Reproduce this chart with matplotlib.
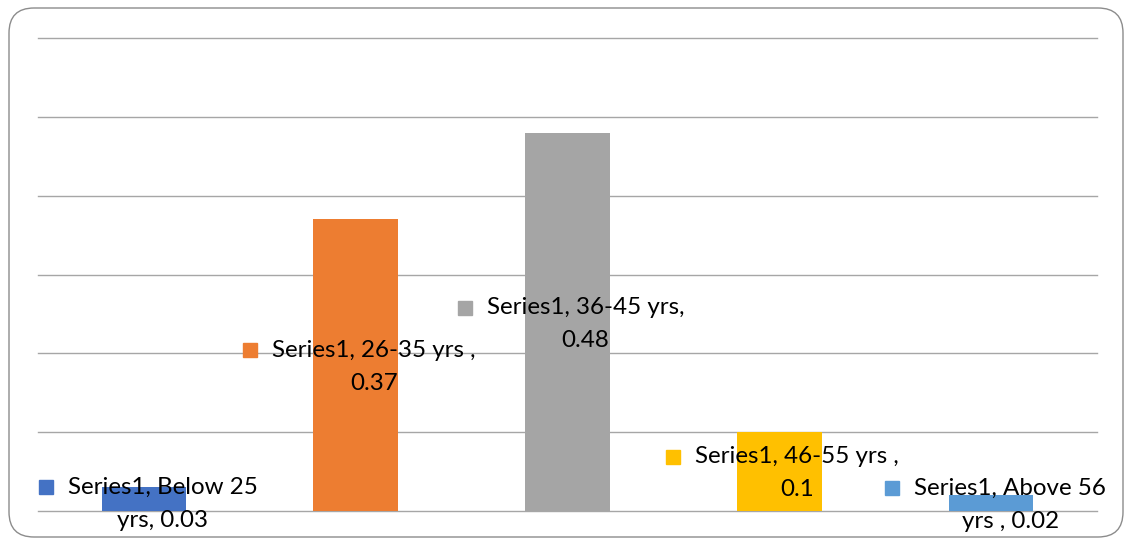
import matplotlib
matplotlib.use("Agg")
import matplotlib.pyplot as plt
from matplotlib.patches import FancyBboxPatch
from matplotlib.transforms import IdentityTransform

categories = ["Below 25\nyrs", "26-35 yrs ", "36-45 yrs,", "46-55 yrs ", "Above 56\nyrs "]
values = [0.03, 0.37, 0.48, 0.1, 0.02]
colors = ["#4472C4", "#ED7D31", "#A5A5A5", "#FFC000", "#5B9BD5"]
label_lines = [
    ("Series1, Below 25", "yrs, 0.03"),
    ("Series1, 26-35 yrs ,", "0.37"),
    ("Series1, 36-45 yrs,", "0.48"),
    ("Series1, 46-55 yrs ,", "0.1"),
    ("Series1, Above 56", "yrs , 0.02"),
]
# label centre (x offset from bar, y in data units)
label_pos = [(0.09, 0.009), (0.085, 0.183), (0.085, 0.237), (0.085, 0.048), (0.09, 0.008)]

plt.rcParams["font.family"] = ["Lato", "DejaVu Sans"]

fig = plt.figure(figsize=(11.25, 5.39), dpi=100)
ax = fig.add_axes([38 / 1125, 28 / 539, 1059 / 1125, 473 / 539])

# rounded chart border, in pixels
border = FancyBboxPatch((9, 2), 1114, 529,
                        boxstyle="round,pad=0,rounding_size=25",
                        transform=IdentityTransform(), facecolor="none",
                        edgecolor="#8c8c8c", linewidth=1.0, clip_on=False)
fig.patches.append(border)

x = list(range(len(values)))
ax.bar(x, values, width=0.4, color=colors, zorder=2)

ax.set_xlim(-0.5, 4.5)
ax.set_ylim(0, 0.6)
ax.set_yticks([0, 0.1, 0.2, 0.3, 0.4, 0.5, 0.6])
ax.grid(axis="y", color="#a6a6a6", linewidth=1.0, zorder=0)
for gl in ax.yaxis.get_gridlines():
    gl.set_clip_on(False)
ax.tick_params(left=False, bottom=False, labelleft=False, labelbottom=False)
for s in ax.spines.values():
    s.set_visible(False)

line_h = 33 / 788  # one text line in data units
texts = []
for i, (l1, l2) in enumerate(label_lines):
    dx, yc = label_pos[i]
    t1 = ax.text(i + dx, yc + line_h / 2, l1, ha="center", va="center",
                 fontsize=17.4, color="#000000", zorder=3)
    ax.text(i + dx, yc - line_h / 2, l2, ha="center", va="center",
            fontsize=17.4, color="#000000", zorder=3)
    texts.append((t1, colors[i]))

fig.canvas.draw()
r = fig.canvas.get_renderer()
inv = ax.transData.inverted()
for t1, c in texts:
    bb = t1.get_window_extent(r)
    px = bb.x0 - 22
    py = (bb.y0 + bb.y1) / 2
    mx, my = inv.transform((px, py))
    ax.plot([mx], [my], marker="s", markersize=9.5, color=c,
            linestyle="none", zorder=3, clip_on=False)

fig.savefig("out.png", dpi=100)
